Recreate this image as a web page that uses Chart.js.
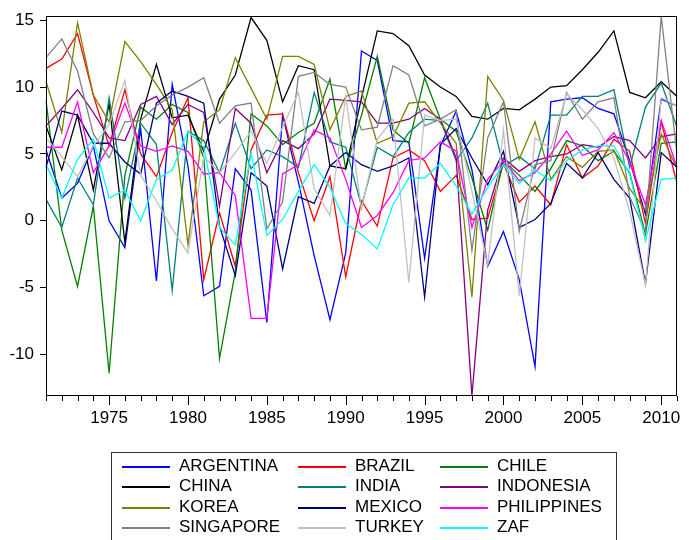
<!DOCTYPE html>
<html>
<head>
<meta charset="utf-8">
<title>GDP growth</title>
<script src="https://cdn.jsdelivr.net/npm/chart.js@4.4.0/dist/chart.umd.min.js"></script>
<style>
body{margin:0;background:#fff;overflow:hidden;}
#wrap{position:relative;width:689px;height:540px;overflow:hidden;}
#legend{position:absolute;left:111px;top:452px;width:506px;height:110px;border:1px solid #333;box-sizing:border-box;
	font-family:"Liberation Sans",Arial,sans-serif;font-size:17px;color:#000;}
.item{position:absolute;height:20px;line-height:20px;white-space:nowrap;}
.item .ln{position:absolute;left:0;top:10px;width:48px;height:2px;display:block;}
.item .tx{position:absolute;left:57px;top:0;}
</style>
</head>
<body>
<div id="wrap">
	<canvas id="myChart" width="689" height="540"></canvas>
	<div id="legend"></div>
</div>
<script>
// data (annual %)
var years = [1971,1972,1973,1974,1975,1976,1977,1978,1979,1980,
	1981,1982,1983,1984,1985,1986,1987,1988,1989,1990,
	1991,1992,1993,1994,1995,1996,1997,1998,1999,2000,
	2001,2002,2003,2004,2005,2006,2007,2008,2009,2010,
	2011];

var argentina = [5.3, 1.7, 2.8, 5.6, 0.0, -2.0, 6.9, -4.5, 10.2, 4.1,
	-5.6, -4.9, 3.9, 2.3, -7.6, 7.9, 2.9, -2.6, -7.4, -2.4,
	12.7, 12.0, 6.0, 5.9, -2.8, 5.6, 8.2, 3.8, -3.4, -0.8,
	-4.4, -10.9, 8.9, 9.1, 9.2, 8.4, 8.0, 4.5, 0.5, 9.1,
	8.6];
var brazil = [11.4, 12.1, 14.0, 9.4, 5.6, 9.8, 5.0, 3.3, 6.6, 9.2,
	-4.4, 0.6, -3.4, 5.3, 7.9, 8.0, 3.6, 0.0, 3.3, -4.2,
	1.5, -0.4, 4.7, 5.3, 4.5, 2.2, 3.4, 0.1, 0.2, 4.3,
	1.4, 2.6, 1.2, 5.7, 3.2, 4.1, 6.1, 5.2, -0.2, 7.4,
	2.8];
var chile = [9.0, -0.7, -4.9, 1.1, -11.4, 3.4, 8.5, 7.6, 8.7, 8.1,
	4.7, -10.3, -3.8, 8.0, 7.1, 5.7, 6.6, 7.3, 10.6, 3.9,
	7.9, 12.3, 6.8, 5.8, 10.7, 7.6, 6.7, 3.2, -0.7, 4.5,
	3.4, 2.2, 3.9, 6.0, 5.6, 4.5, 5.2, 3.6, -1.0, 5.8,
	5.9];
var china = [7.1, 3.8, 7.9, 2.3, 8.8, -1.6, 7.6, 11.7, 7.7, 7.9,
	5.2, 9.1, 10.9, 15.2, 13.5, 8.9, 11.6, 11.3, 4.1, 3.9,
	9.2, 14.2, 14.0, 13.1, 10.9, 10.0, 9.3, 7.8, 7.6, 8.4,
	8.3, 9.1, 10.0, 10.1, 11.3, 12.6, 14.2, 9.6, 9.2, 10.4,
	9.3];
var india = [1.6, -0.5, 3.2, 1.2, 9.2, 1.7, 7.3, 5.7, -5.2, 6.7,
	6.0, 3.6, 7.3, 3.9, 5.3, 4.8, 4.0, 9.6, 5.9, 5.5,
	1.1, 5.5, 4.8, 6.6, 7.6, 7.5, 4.5, 6.2, 8.8, 4.1,
	4.8, 3.9, 7.9, 7.9, 9.3, 9.3, 9.8, 4.0, 8.5, 10.3,
	7.0];
var indonesia = [7.1, 8.4, 9.8, 8.1, 6.2, 6.0, 8.7, 9.3, 7.2, 8.7,
	8.1, 1.1, 8.4, 7.3, 3.6, 6.0, 5.4, 6.5, 9.1, 9.0,
	8.9, 7.3, 7.3, 7.6, 8.4, 7.6, 4.7, -13.1, 0.8, 4.7,
	3.7, 4.5, 4.8, 5.0, 5.7, 5.5, 6.3, 6.0, 4.7, 6.3,
	6.5];
var korea = [10.4, 6.6, 14.8, 9.4, 7.4, 13.4, 11.9, 10.2, 8.3, -1.8,
	7.4, 8.3, 12.2, 9.9, 7.6, 12.3, 12.3, 11.7, 6.8, 9.3,
	9.7, 5.8, 6.3, 8.8, 8.9, 7.3, 5.8, -5.7, 10.8, 9.0,
	4.6, 7.4, 3.1, 4.8, 4.0, 5.2, 5.3, 2.4, 0.8, 6.5,
	3.9];
var mexico = [4.0, 8.2, 7.9, 5.8, 5.8, 4.4, 3.5, 8.8, 9.7, 9.3,
	8.8, -0.4, -4.1, 3.6, 2.6, -3.6, 1.8, 1.3, 4.1, 5.1,
	4.2, 3.7, 4.1, 4.7, -5.7, 5.7, 6.9, 4.7, 2.7, 5.2,
	-0.5, 0.1, 1.3, 4.3, 3.2, 5.1, 3.1, 1.7, -4.7, 5.1,
	4.0];
var philippines = [5.5, 5.5, 8.9, 3.6, 5.6, 8.8, 5.6, 5.2, 5.6, 5.2,
	3.5, 3.6, 1.9, -7.3, -7.3, 3.5, 4.2, 6.8, 6.2, 3.1,
	-0.5, 0.4, 2.1, 4.5, 4.7, 5.9, 5.2, -0.5, 3.1, 4.5,
	3.0, 3.6, 5.0, 6.7, 4.9, 5.3, 6.6, 4.4, 1.2, 7.5,
	4.0];
var singapore = [12.2, 13.6, 11.2, 6.5, 4.7, 7.4, 7.5, 8.6, 9.4, 10.0,
	10.7, 7.3, 8.6, 8.8, -0.6, 1.4, 10.8, 11.1, 10.2, 10.0,
	6.8, 7.0, 11.6, 10.9, 7.1, 7.6, 8.3, -2.2, 6.2, 8.9,
	-0.8, 4.2, 4.5, 9.6, 7.6, 8.9, 9.2, 1.8, -0.8, 15.3,
	5.0];
var turkey = [6.2, 4.8, 3.3, 5.6, 7.2, 10.5, 3.4, 1.5, -0.6, -2.4,
	4.8, 3.6, 5.1, 6.7, 4.3, 7.0, 9.6, 2.4, 0.4, 9.3,
	0.9, 6.1, 7.6, -4.6, 7.9, 7.5, 7.6, 2.2, -3.3, 6.8,
	-5.6, 6.2, 5.4, 9.5, 8.3, 6.9, 4.7, 0.7, -4.8, 9.2,
	8.6];
var zaf = [4.2, 1.7, 4.6, 6.1, 1.7, 2.3, 0.0, 3.1, 3.8, 6.7,
	5.5, -0.5, -1.8, 5.1, -1.1, 0.1, 2.2, 4.2, 2.5, -0.2,
	-1.0, -2.1, 1.2, 3.2, 3.2, 4.3, 2.6, 0.5, 2.5, 4.2,
	2.8, 3.8, 3.0, 4.5, 5.3, 5.6, 5.6, 3.5, -1.5, 3.1,
	3.2];

var names = ['ARGENTINA','BRAZIL','CHILE','CHINA','INDIA','INDONESIA',
	'KOREA','MEXICO','PHILIPPINES','SINGAPORE','TURKEY','ZAF'];
var series = [argentina, brazil, chile, china, india, indonesia,
	korea, mexico, philippines, singapore, turkey, zaf];
var yTicks = [-10, -5, 0, 5, 10, 15];

// eviews colours
var colors = ['#0000ff','#ff0000','#008000','#000000','#008080','#800080',
	'#808000','#000080','#ff00ff','#808080','#c0c0c0','#00ffff'];

// y range = data range, like eviews does
var all = [].concat.apply([], series);
var yMin = Math.min.apply(null, all);
var yMax = Math.max.apply(null, all);

var datasets = [];
for (var i = 0; i < series.length; i++) {
	datasets.push({
		label: names[i],
		data: series[i],
		borderColor: colors[i],
		backgroundColor: colors[i],
		borderWidth: 1.3,
		pointRadius: 0,
		tension: 0,
		fill: false,
		order: series.length - i   // later series on top
	});
}

// box round the plot + the year ticks under it
var framePlugin = {
	id: 'frame',
	afterDraw: function(chart) {
		var a = chart.chartArea, ctx = chart.ctx, xs = chart.scales.x;
		ctx.save();
		ctx.strokeStyle = '#000';
		ctx.lineWidth = 1;
		ctx.strokeRect(Math.round(a.left) + 0.5, Math.round(a.top) + 0.5,
			Math.round(a.right - a.left) - 1, Math.round(a.bottom - a.top) - 1);
		for (var i = 0; i < years.length; i++) {
			var px = Math.round(xs.getPixelForValue(i)) + 0.5;
			var len = (years[i] % 5 == 0) ? 9 : 5;
			ctx.beginPath();
			ctx.moveTo(px, Math.round(a.bottom));
			ctx.lineTo(px, Math.round(a.bottom) + len);
			ctx.stroke();
		}
		ctx.restore();
	}
};

// html legend, 3 columns like the original
var legendPlugin = {
	id: 'htmlLegend',
	afterUpdate: function(chart) {
		var box = document.getElementById('legend');
		box.innerHTML = '';
		var colLeft = [10, 186, 328];
		var ds = chart.data.datasets;
		for (var i = 0; i < ds.length; i++) {
			var it = document.createElement('div');
			it.className = 'item';
			it.style.left = colLeft[i % 3] + 'px';
			it.style.top = (3 + Math.floor(i / 3) * 20.3) + 'px';
			var ln = document.createElement('span');
			ln.className = 'ln';
			ln.style.backgroundColor = colors[i];
			var tx = document.createElement('span');
			tx.className = 'tx';
			tx.textContent = ds[i].label;
			it.appendChild(ln);
			it.appendChild(tx);
			box.appendChild(it);
		}
	}
};

Chart.defaults.font.family = "'Liberation Sans', Arial, sans-serif";
Chart.defaults.font.size = 17;
Chart.defaults.color = '#000';

var ctx = document.getElementById('myChart');
var myChart = new Chart(ctx, {
	type: 'line',
	data: {
		labels: years,
		datasets: datasets
	},
	options: {
		responsive: false,
		animation: false,
		devicePixelRatio: 1,
		layout: { padding: { top: 14, right: 3, left: 0, bottom: 0 } },
		plugins: {
			legend: { display: false },
			tooltip: { enabled: false }
		},
		scales: {
			x: {
				type: 'category',
				offset: false,
				grid: { display: false, drawTicks: false },
				border: { display: false },
				ticks: {
					autoSkip: false,
					maxRotation: 0,
					minRotation: 0,
					padding: 12,
					callback: function(val, i) {
						return (years[i] % 5 == 0) ? String(years[i]) : '';
					}
				},
				afterFit: function(scale) { scale.height = 144; }
			},
			y: {
				min: yMin,
				max: yMax,
				grid: { drawOnChartArea: false, tickLength: 6, color: '#000' },
				border: { display: false },
				afterBuildTicks: function(scale) {
					scale.ticks = yTicks.map(function(v) { return { value: v }; });
				},
				ticks: { padding: 6 },
				afterFit: function(scale) { scale.width = 46; }
			}
		}
	},
	plugins: [framePlugin, legendPlugin]
});
</script>
</body>
</html>
